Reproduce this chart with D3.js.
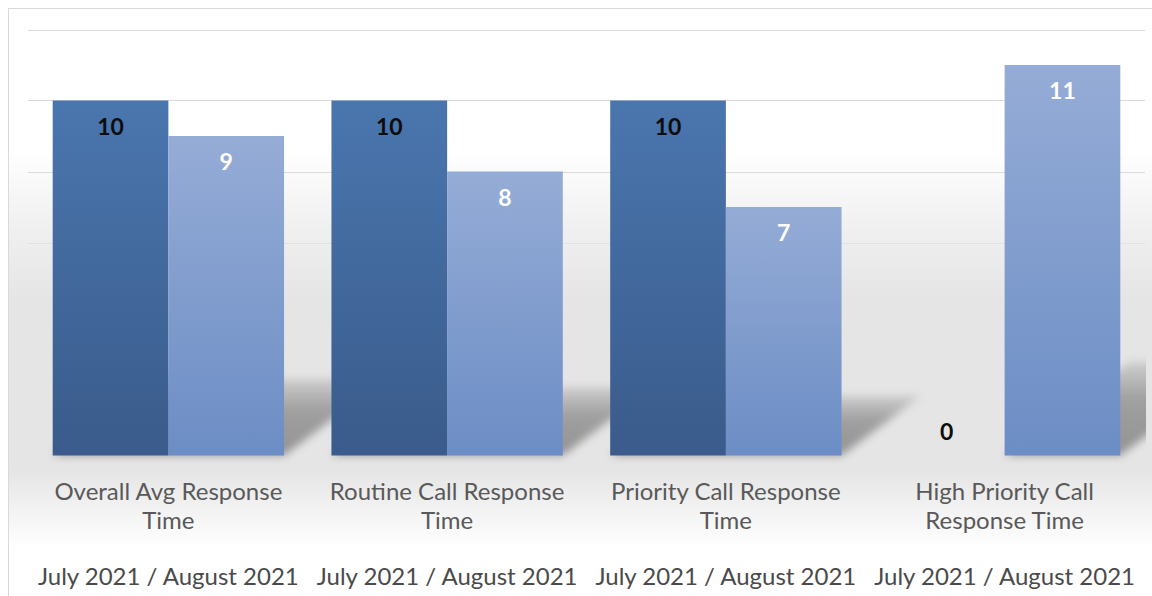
<!DOCTYPE html>
<html>
<head>
<meta charset="utf-8">
<script src="https://cdn.jsdelivr.net/npm/d3@7"></script>
<style>
  html, body { margin: 0; padding: 0; background: #ffffff; }
  svg { display: block; }
</style>
</head>
<body>
<svg id="chart" width="1152" height="596"></svg>
<script>
// ---- data ----
const categories = [
  ["Overall Avg Response", "Time"],
  ["Routine Call Response", "Time"],
  ["Priority Call Response", "Time"],
  ["High Priority Call", "Response Time"]
];
const seriesNames = ["July 2021", "August 2021"];
const july2021 = [10, 10, 10, 0];
const august2021 = [9, 8, 7, 11];
const periodLabel = "July 2021 / August 2021";
const gridTicks = [0, 2, 4, 6, 8, 10, 12];

const seriesValues = [july2021, august2021];
const svg = d3.select("#chart");
const defs = svg.append("defs");

const font = "Lato, 'Open Sans', sans-serif";

// scales
const x0 = d3.scaleBand().domain(d3.range(categories.length)).range([29, 1144])
  .paddingInner(0.17).paddingOuter(0.085);
const x1 = d3.scaleBand().domain(seriesNames).range([0, x0.bandwidth()]);
const y = d3.scaleLinear().domain([0, 12]).range([455.5, 29.5]);

// gradients
function vgrad(id, stops) {
  const g = defs.append("linearGradient").attr("id", id)
    .attr("x1", 0).attr("y1", 0).attr("x2", 0).attr("y2", 1);
  stops.forEach(s => g.append("stop").attr("offset", s[0]).attr("stop-color", s[1]).attr("stop-opacity", s[2] == null ? 1 : s[2]));
}
vgrad("gDark", [[0, "#4a76ae"], [1, "#3a5b8b"]]);
vgrad("gLight", [[0, "#95acd6"], [1, "#6c8dc5"]]);
vgrad("gShadow", [[0, "#000", 0.1], [0.4, "#000", 0.3], [1, "#000", 0.36]]);

const floor = defs.append("linearGradient").attr("id", "gFloor")
  .attr("gradientUnits", "userSpaceOnUse").attr("x1", 0).attr("y1", 8).attr("x2", 0).attr("y2", 596);
[[150, 0], [230, 0.6], [300, 1], [470, 1], [548, 0]].forEach(s =>
  floor.append("stop").attr("offset", (s[0] - 8) / 588).attr("stop-color", "#e5e5e5").attr("stop-opacity", s[1]));

defs.append("filter").attr("id", "blur").attr("x", "-20%").attr("y", "-20%").attr("width", "140%").attr("height", "140%")
  .append("feGaussianBlur").attr("stdDeviation", 4.5);
defs.append("clipPath").attr("id", "plotClip").append("rect")
  .attr("x", 9).attr("y", 9).attr("width", 1137).attr("height", 460);

// chart area background + border
svg.append("rect").attr("x", 8.5).attr("y", 8.5).attr("width", 1160).attr("height", 600)
  .attr("fill", "#ffffff").attr("stroke", "#d9d9d9").attr("stroke-width", 1);

// gridlines
svg.append("g").selectAll("line").data(gridTicks).join("line")
  .attr("x1", x0.range()[0] - 1).attr("x2", x0.range()[1] + 1)
  .attr("y1", d => Math.round(y(d)) + 0.5).attr("y2", d => Math.round(y(d)) + 0.5)
  .attr("stroke", "#d9d9d9").attr("stroke-width", 1);

// floor shading
svg.append("rect").attr("x", 9).attr("y", 9).attr("width", 1143).attr("height", 587)
  .attr("fill", "url(#gFloor)");

// bar data
const bars = [];
categories.forEach((c, i) => {
  seriesNames.forEach((s, j) => {
    bars.push({ i, j, s, v: seriesValues[j][i] });
  });
});

// shadows
const base = y(0);
svg.append("g").attr("clip-path", "url(#plotClip)")
  .append("g").attr("filter", "url(#blur)")
  .selectAll("path").data(bars.filter(b => b.v > 0)).join("path")
  .attr("d", b => {
    const xa = x0(b.i) + x1(b.s), xb = xa + x1.bandwidth();
    const h = base - y(b.v);
    const dx = 0.32 * h, dy = 0.24 * h;
    return `M${xa},${base}L${xb},${base}L${xb + dx},${base - dy}L${xa + dx},${base - dy}Z`;
  })
  .attr("fill", "url(#gShadow)");

// bars
svg.append("g").selectAll("rect").data(bars).join("rect")
  .attr("x", b => x0(b.i) + x1(b.s))
  .attr("y", b => y(b.v))
  .attr("width", x1.bandwidth())
  .attr("height", b => base - y(b.v))
  .attr("fill", b => b.j === 0 ? "url(#gDark)" : "url(#gLight)");

// data labels
svg.append("g").selectAll("text").data(bars).join("text")
  .attr("x", b => x0(b.i) + x1(b.s) + x1.bandwidth() / 2)
  .attr("y", b => Math.min(y(b.v) + 26, base - 24))
  .attr("dy", "0.36em")
  .attr("text-anchor", "middle")
  .attr("font-family", font).attr("font-weight", "bold").attr("font-size", 23)
  .attr("fill", b => b.j === 0 ? "#0d0d0d" : "#ffffff")
  .text(b => b.v);

// category labels
const catG = svg.append("g");
categories.forEach((lines, i) => {
  const cx = x0(i) + x0.bandwidth() / 2;
  lines.forEach((t, k) => {
    catG.append("text").attr("x", cx).attr("y", 491 + k * 29.5).attr("dy", "0.36em")
      .attr("text-anchor", "middle").attr("font-family", font).attr("font-size", 24)
      .attr("fill", "#595959").text(t);
  });
  catG.append("text").attr("x", cx).attr("y", 576).attr("dy", "0.36em")
    .attr("text-anchor", "middle").attr("font-family", font).attr("font-size", 24)
    .attr("fill", "#4a4a4a").text(periodLabel);
});
</script>
</body>
</html>
